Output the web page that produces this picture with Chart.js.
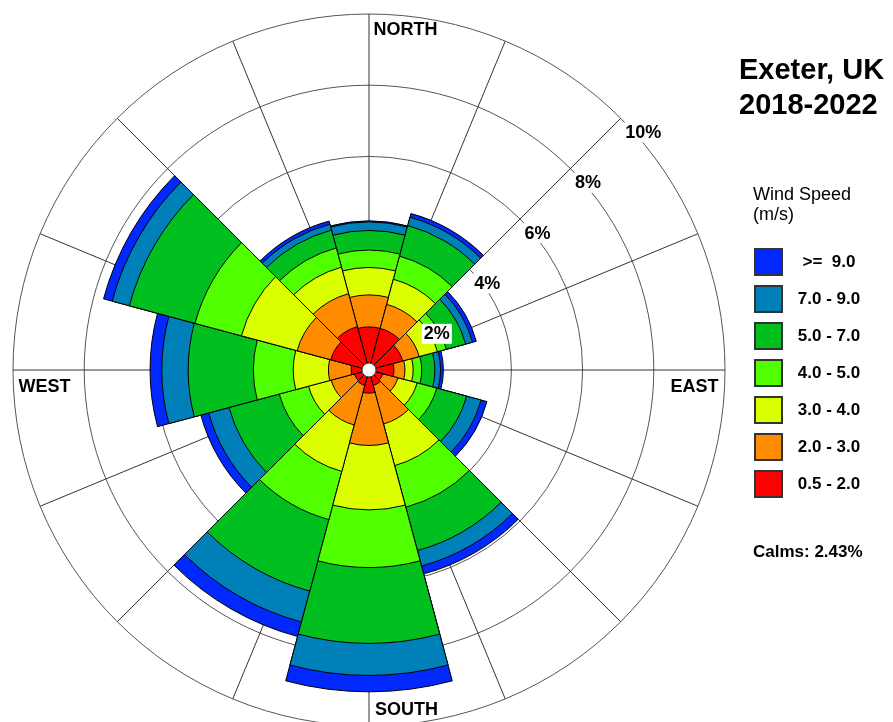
<!DOCTYPE html>
<html>
<head>
<meta charset="utf-8">
<script src="https://cdn.jsdelivr.net/npm/chart.js@4.4.1/dist/chart.umd.min.js"></script>
<style>
  html, body { margin: 0; padding: 0; background: #fff; overflow: hidden; }
  #wrap { position: relative; width: 893px; height: 722px; overflow: hidden; }
  #roseChart { position: absolute; left: 0; top: 0; }
  .title { position: absolute; left: 739px; top: 52px; font: bold 29px "Liberation Sans", Arial, sans-serif; line-height: 35px; white-space: nowrap; }
  .legend-title { position: absolute; left: 753px; top: 184px; font: 18px "Liberation Sans", Arial, sans-serif; line-height: 20px; white-space: nowrap; }
  #legend { position: absolute; left: 754px; top: 248px; }
  .row { display: flex; align-items: center; height: 28px; margin-bottom: 9px; }
  .swatch { width: 25px; height: 24px; border: 2px solid #333; }
  .lbl { width: 92px; text-align: center; font: bold 17px "Liberation Sans", Arial, sans-serif; line-height: 28px; white-space: pre; }
  .calms { position: absolute; left: 753px; top: 542px; font: bold 17px "Liberation Sans", Arial, sans-serif; line-height: 20px; white-space: nowrap; }
</style>
</head>
<body>
<div id="wrap">
  <canvas id="roseChart" width="893" height="740"></canvas>
  <div class="title">Exeter, UK<br>2018-2022</div>
  <div class="legend-title">Wind Speed<br>(m/s)</div>
  <div id="legend"></div>
  <div class="calms">Calms: 2.43%</div>
</div>
<script>
// wind directions (sector centres, degrees from north)
var directions = ['0', '30', '60', '90', '120', '150', '180', '210', '240', '270', '300', '330'];

// speed classes, lowest first
var speedClasses = ['0.5 - 2.0', '2.0 - 3.0', '3.0 - 4.0', '4.0 - 5.0', '5.0 - 7.0', '7.0 - 9.0', '>=  9.0'];
var speedColors = ['#ff0000', '#ff8c00', '#dcff00', '#50ff00', '#00bf1f', '#0080b8', '#0028ff'];

// frequency (%) per direction for each speed class
var speed05to2 = [1.21, 1.21, 0.98, 0.70, 0.40, 0.45, 0.65, 0.45, 0.42, 0.50, 1.11, 1.26];
var speed2to3  = [0.90, 0.70, 0.48, 0.31, 0.44, 1.12, 1.47, 1.15, 0.68, 0.64, 0.98, 0.96];
var speed3to4  = [0.77, 0.73, 0.53, 0.23, 0.56, 1.21, 1.81, 1.35, 0.66, 0.99, 1.62, 0.77];
var speed4to5  = [0.49, 0.67, 0.26, 0.24, 0.57, 1.21, 1.62, 1.40, 0.85, 1.12, 1.35, 0.56];
var speed5to7  = [0.55, 0.89, 0.56, 0.37, 0.87, 1.26, 2.13, 2.08, 1.46, 1.83, 1.91, 0.52];
var speed7to9  = [0.24, 0.24, 0.20, 0.16, 0.42, 0.45, 0.90, 0.90, 0.59, 0.74, 0.50, 0.17];
var speedOver9 = [0.03, 0.11, 0.11, 0.08, 0.17, 0.23, 0.46, 0.42, 0.23, 0.33, 0.25, 0.09];

var compassLabels = ['NORTH', 'EAST', 'SOUTH', 'WEST'];
var spokeCount = 16;

var series = [speed05to2, speed2to3, speed3to4, speed4to5, speed5to7, speed7to9, speedOver9];

// polar area arcs start at the centre, so stack by hand: cumulative totals,
// smallest first so it is drawn on top
var running = directions.map(function() { return 0; });
var datasets = series.map(function(vals, k) {
    running = running.map(function(t, i) { return t + vals[i]; });
    return {
        label: speedClasses[k],
        data: running.slice(),
        backgroundColor: speedColors[k],
        borderColor: '#000',
        borderWidth: 1
    };
});

// legend, top class first
var legendEl = document.getElementById('legend');
for (var k = speedClasses.length - 1; k >= 0; k--) {
    var row = document.createElement('div');
    row.className = 'row';
    row.innerHTML = '<div class="swatch" style="background:' + speedColors[k] + '"></div><div class="lbl"></div>';
    row.querySelector('.lbl').textContent = speedClasses[k];
    legendEl.appendChild(row);
}

var roseDecor = {
    id: 'roseDecor',
    beforeDatasetsDraw: function(chart) {
        var r = chart.scales.r;
        var ctx = chart.ctx;
        ctx.save();
        ctx.strokeStyle = '#333';
        ctx.lineWidth = 1;
        for (var i = 0; i < spokeCount; i++) {
            var a = (i * 360 / spokeCount - 90) * Math.PI / 180;
            ctx.beginPath();
            ctx.moveTo(r.xCenter, r.yCenter);
            ctx.lineTo(r.xCenter + r.drawingArea * Math.cos(a), r.yCenter + r.drawingArea * Math.sin(a));
            ctx.stroke();
        }
        ctx.restore();
    },
    afterDatasetsDraw: function(chart) {
        var r = chart.scales.r;
        var ctx = chart.ctx;
        var xc = r.xCenter, yc = r.yCenter, R = r.drawingArea;
        ctx.save();

        // calm hole
        ctx.beginPath();
        ctx.arc(xc, yc, 7, 0, Math.PI * 2);
        ctx.fillStyle = '#fff';
        ctx.fill();
        ctx.strokeStyle = '#333';
        ctx.stroke();

        // ring labels along the NE diagonal
        ctx.font = 'bold 18px "Liberation Sans", Arial, sans-serif';
        ctx.textBaseline = 'alphabetic';
        ctx.textAlign = 'left';
        r.ticks.forEach(function(t) {
            if (t.value <= 0) return;
            var d = r.getDistanceFromCenterForValue(t.value);
            var x = xc + d * Math.SQRT1_2 + 4.5;
            var y = yc - d * Math.SQRT1_2 + 19.7;
            var txt = t.value + '%';
            var w = ctx.measureText(txt).width;
            ctx.fillStyle = '#fff';
            ctx.fillRect(x - 2, y - 15.5, w + 4, 20);
            ctx.fillStyle = '#000';
            ctx.fillText(txt, x, y);
        });

        // compass labels
        ctx.fillStyle = '#000';
        ctx.textAlign = 'left';
        ctx.fillText(compassLabels[0], xc + 4.5, yc - R + 21);
        ctx.fillText(compassLabels[2], xc + 6, yc + 345);
        ctx.fillText(compassLabels[3], xc - R + 5.5, yc + 21.7);
        ctx.textAlign = 'right';
        ctx.fillText(compassLabels[1], xc + R - 6.5, yc + 21.7);
        ctx.restore();
    }
};

var ctx = document.getElementById('roseChart').getContext('2d');
var roseChart = new Chart(ctx, {
    type: 'polarArea',
    data: {
        labels: directions,
        datasets: datasets
    },
    options: {
        responsive: false,
        animation: false,
        events: [],
        layout: { padding: { left: 13, top: 14, right: 168, bottom: 14 } },
        plugins: {
            legend: { display: false },
            tooltip: { enabled: false }
        },
        scales: {
            r: {
                min: 0,
                max: 10,
                startAngle: -15,
                ticks: { display: false, stepSize: 2 },
                grid: { color: '#555', lineWidth: 1 },
                angleLines: { display: false },
                pointLabels: { display: false }
            }
        }
    },
    plugins: [roseDecor]
});
</script>
</body>
</html>
